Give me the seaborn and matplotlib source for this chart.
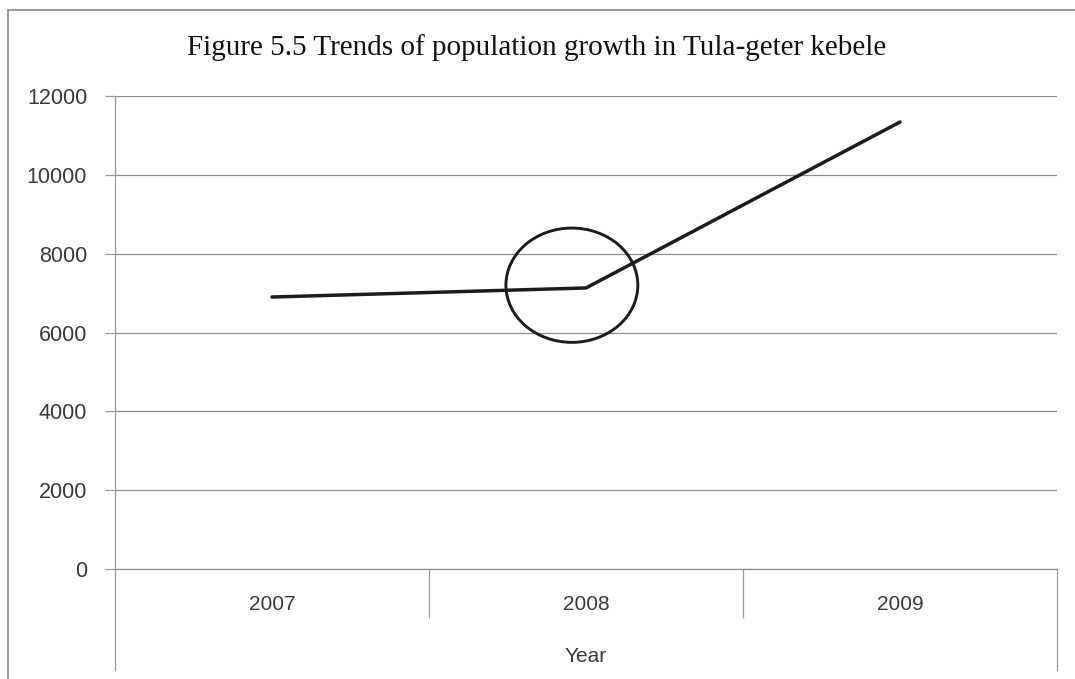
import matplotlib
matplotlib.use("Agg")
import matplotlib.pyplot as plt
from matplotlib.lines import Line2D
from matplotlib.patches import Ellipse
import seaborn as sns
import pandas as pd

# Population of Tula-geter kebele by year
years = ["2007", "2008", "2009"]
population = [6900, 7130, 11340]
y_ticks = [0, 2000, 4000, 6000, 8000, 10000, 12000]

title = "Figure 5.5 Trends of population growth in Tula-geter kebele"
x_label = "Year"

sns.set_theme(style="white")
plt.rcParams["font.family"] = ["Liberation Sans", "DejaVu Sans"]

df = pd.DataFrame({"year": years, "population": population})

fig = plt.figure(figsize=(10.75, 6.79), dpi=100)
ax = fig.add_axes([115 / 1075, 1 - 569 / 679, (1057 - 115) / 1075, (569 - 96) / 679])

sns.lineplot(data=df, x="year", y="population", ax=ax, color="#1c1c1c",
             linewidth=2.5, sort=False, solid_capstyle="round", zorder=3)

ax.set_xlim(-0.5, len(years) - 0.5)
ax.set_ylim(y_ticks[0], y_ticks[-1])
ax.set_yticks(y_ticks)
ax.set_yticklabels([str(v) for v in y_ticks], fontsize=15.5, color="#3a3a3a")
ax.yaxis.grid(True, color="#8e8e8e", linewidth=0.9)
ax.set_axisbelow(True)

# category labels centred in each slot, separators between slots
ax.set_xticks(range(len(years)))
ax.set_xticklabels(years, fontsize=15, color="#3a3a3a")
ax.tick_params(axis="x", which="major", length=0, pad=19)
ax.set_xticks([i + 0.5 for i in range(len(years) - 1)], minor=True)
ax.tick_params(axis="x", which="minor", length=35, width=0.9, color="#9a9a9a",
               direction="out", bottom=True)
ax.tick_params(axis="y", which="major", length=7, width=0.9, color="#9a9a9a",
               left=True, pad=13)

ax.set_xlabel(x_label, fontsize=15, color="#3a3a3a", labelpad=18)
ax.set_ylabel("")

for side in ["top", "right"]:
    ax.spines[side].set_visible(False)
ax.spines["left"].set_color("#9a9a9a")
ax.spines["left"].set_linewidth(0.9)
ax.spines["bottom"].set_color("#8e8e8e")
ax.spines["bottom"].set_linewidth(0.9)

# outer vertical rules of the category axis
drop = -(670 - 569) / (569 - 96)
for xa in (0.0, 1.0):
    ax.add_line(Line2D([xa, xa], [0, drop], transform=ax.transAxes,
                       color="#9a9a9a", linewidth=0.9, clip_on=False))

# hand-drawn circle highlighting the 2008 point
ax.add_patch(Ellipse((0.955, 7200), width=0.42, height=2900, fill=False,
                     edgecolor="#1c1c1c", linewidth=2.1, zorder=4))

fig.text(537 / 1075, 1 - 48 / 679, title, ha="center", va="center",
         fontsize=21, family=["Liberation Serif", "DejaVu Serif"], color="#111111")

# chart frame (top and left edges)
fig.add_artist(Line2D([8 / 1075, 8 / 1075], [1 - 10 / 679, 0], transform=fig.transFigure,
                      color="#8a8a8a", linewidth=1.2))
fig.add_artist(Line2D([8 / 1075, 1], [1 - 10 / 679, 1 - 10 / 679], transform=fig.transFigure,
                      color="#8a8a8a", linewidth=1.2))

fig.savefig("out.png", dpi=100, facecolor="white")
